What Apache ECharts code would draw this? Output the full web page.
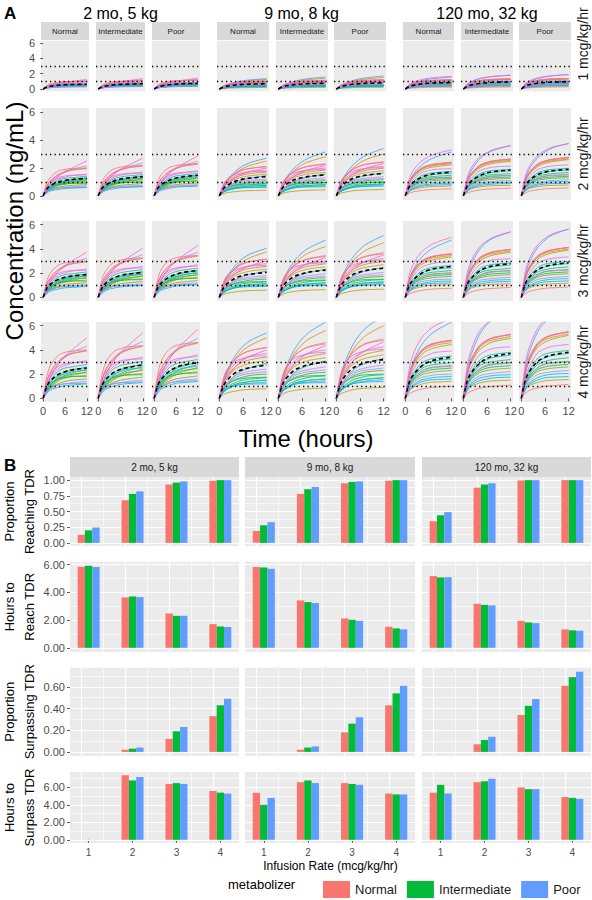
<!DOCTYPE html>
<html><head><meta charset="utf-8">
<script src="https://cdn.jsdelivr.net/npm/echarts@6/dist/echarts.min.js"></script>
<style>html,body{margin:0;padding:0;background:#fff}#c{width:592px;height:900px}</style>
</head><body><div id="c"></div>
<script>
// ---------------- DATA ----------------
const ageGroups = ['2 mo, 5 kg', '9 mo, 8 kg', '120 mo, 32 kg'];
const metabolizers = ['Normal', 'Intermediate', 'Poor'];
const infusionRates = [1, 2, 3, 4];
const rateLabels = ['1 mcg/kg/hr', '2 mcg/kg/hr', '3 mcg/kg/hr', '4 mcg/kg/hr'];
const hours = [0, 1, 2, 4, 6, 8, 12];
const timeTicks = [0, 6, 12];
const concTicks = [0, 2, 4, 6];
const targetRange = [1, 3];          // ng/mL, dotted reference lines
const referenceRate = 4;             // curves below read at 4 mcg/kg/hr (linear kinetics: scale with rate)

// simulated patients, concentration (ng/mL) at `hours`, 4 mcg/kg/hr
const conc2moNormal = [
[0,1.8,2.7,3.5,3.8,3.9,4.0],[0,1.4,2.1,3.0,3.4,3.7,3.9],[0,0.9,1.4,1.9,2.2,2.4,2.5],[0,0.6,0.9,1.4,1.7,1.9,2.2],
[0,0.7,1.0,1.5,1.7,1.8,1.9],[0,0.6,0.9,1.2,1.4,1.5,1.6],[0,0.7,1.2,1.6,1.8,2.0,2.1],[0,0.8,1.2,1.6,1.7,1.8,1.8],
[0,0.6,1.0,1.6,1.9,2.1,2.4],[0,1.0,1.5,2.2,2.5,2.6,2.8],[0,0.7,1.1,1.7,2.1,2.3,2.6],[0,0.4,0.7,0.9,1.05,1.1,1.2],
[0,0.8,1.3,1.8,2.0,2.2,2.3],[0,0.6,0.85,1.1,1.2,1.22,1.25],[0,1.1,1.8,2.8,3.4,3.8,4.3],[0,0.5,0.8,1.1,1.2,1.3,1.4],
[0,1.1,1.7,2.4,2.7,2.9,3.1],[0,1.35,2.0,2.6,2.85,2.95,3.0],[0,1.0,1.75,2.75,3.5,4.0,5.0],[0,1.4,2.2,3.0,3.5,3.7,3.95]];
const conc2moIntermediate = [
[0,1.9,2.9,3.8,4.1,4.25,4.35],[0,1.5,2.3,3.2,3.7,4.0,4.3],[0,0.95,1.5,2.1,2.4,2.6,2.75],[0,0.65,1.0,1.5,1.85,2.05,2.4],
[0,0.75,1.1,1.6,1.85,1.95,2.05],[0,0.65,0.95,1.3,1.5,1.6,1.75],[0,0.75,1.3,1.75,1.95,2.15,2.3],[0,0.85,1.3,1.7,1.85,1.92,1.95],
[0,0.65,1.1,1.75,2.05,2.3,2.6],[0,1.05,1.65,2.4,2.7,2.85,3.05],[0,0.75,1.2,1.85,2.3,2.5,2.85],[0,0.45,0.75,1.0,1.15,1.22,1.3],
[0,0.85,1.4,1.95,2.2,2.4,2.5],[0,0.65,0.9,1.2,1.28,1.32,1.35],[0,1.2,1.95,3.05,3.7,4.1,4.7],[0,0.55,0.85,1.2,1.3,1.4,1.5],
[0,1.2,1.85,2.6,2.95,3.15,3.4],[0,1.45,2.15,2.8,3.1,3.2,3.25],[0,1.05,1.9,3.0,3.8,4.35,5.4],[0,1.5,2.4,3.3,3.8,4.05,4.3]];
const conc2moPoor = [
[0,2.0,3.1,4.0,4.35,4.5,4.6],[0,1.6,2.45,3.4,3.9,4.25,4.55],[0,1.0,1.6,2.2,2.55,2.75,2.9],[0,0.7,1.05,1.6,1.95,2.2,2.55],
[0,0.8,1.15,1.7,1.95,2.05,2.2],[0,0.7,1.0,1.4,1.6,1.7,1.85],[0,0.8,1.35,1.85,2.1,2.3,2.45],[0,0.9,1.4,1.8,1.95,2.05,2.1],
[0,0.7,1.15,1.85,2.2,2.45,2.8],[0,1.1,1.75,2.5,2.85,3.0,3.2],[0,0.8,1.25,1.95,2.45,2.65,3.0],[0,0.45,0.8,1.05,1.25,1.3,1.4],
[0,0.9,1.5,2.05,2.3,2.5,2.65],[0,0.7,0.95,1.25,1.38,1.42,1.45],[0,1.25,2.05,3.2,3.9,4.35,4.95],[0,0.55,0.9,1.25,1.4,1.5,1.6],
[0,1.25,1.95,2.75,3.1,3.3,3.6],[0,1.5,2.25,2.95,3.25,3.35,3.45],[0,1.1,2.0,3.15,4.0,4.6,5.7],[0,1.6,2.5,3.45,4.0,4.3,4.6]];
const conc9moNormal = [
[0,1.5,2.3,3.2,3.7,3.95,4.2],[0,1.1,1.7,2.4,2.7,2.9,3.1],[0,1.25,2.1,3.25,3.95,4.4,5.0],[0,0.3,0.45,0.6,0.7,0.75,0.8],
[0,1.2,1.9,2.6,3.0,3.2,3.4],[0,0.5,0.8,1.15,1.3,1.4,1.5],[0,0.7,1.1,1.55,1.75,1.9,2.0],[0,0.8,1.2,1.5,1.65,1.7,1.75],
[0,0.6,0.95,1.3,1.5,1.6,1.7],[0,0.7,1.2,1.9,2.3,2.55,2.9],[0,0.5,0.8,1.15,1.3,1.4,1.5],[0,0.5,0.75,1.05,1.2,1.25,1.35],
[0,0.55,0.8,1.05,1.15,1.18,1.2],[0,1.35,2.3,3.5,4.3,4.8,5.4],[0,0.75,1.2,1.7,1.95,2.05,2.2],[0,0.85,1.3,1.85,2.1,2.25,2.4],
[0,1.3,2.0,2.85,3.25,3.5,3.7],[0,1.6,2.4,3.05,3.3,3.45,3.5],[0,1.0,1.7,2.6,3.15,3.5,4.0],[0,1.45,2.3,3.2,3.7,3.95,4.2]];
const conc9moIntermediate = [
[0,1.6,2.5,3.5,4.0,4.3,4.6],[0,1.2,1.85,2.6,2.95,3.15,3.35],[0,1.4,2.35,3.65,4.45,4.95,5.6],[0,0.3,0.5,0.65,0.75,0.8,0.85],
[0,1.3,2.05,2.8,3.25,3.45,3.7],[0,0.55,0.85,1.25,1.4,1.5,1.6],[0,0.75,1.2,1.7,1.9,2.05,2.15],[0,0.85,1.3,1.6,1.8,1.85,1.9],
[0,0.65,1.0,1.4,1.6,1.75,1.85],[0,0.8,1.35,2.1,2.5,2.75,3.1],[0,0.55,0.85,1.25,1.4,1.5,1.6],[0,0.55,0.8,1.15,1.3,1.35,1.45],
[0,0.6,0.85,1.15,1.25,1.28,1.3],[0,1.55,2.6,4.0,4.9,5.5,6.3],[0,0.8,1.3,1.85,2.1,2.2,2.35],[0,0.9,1.4,2.0,2.25,2.4,2.6],
[0,1.4,2.2,3.05,3.5,3.75,4.0],[0,1.75,2.6,3.3,3.55,3.7,3.8],[0,1.1,1.85,2.8,3.4,3.8,4.35],[0,1.6,2.5,3.45,4.0,4.25,4.5]];
const conc9moPoor = [
[0,1.7,2.65,3.75,4.3,4.6,4.9],[0,1.25,1.95,2.75,3.15,3.35,3.6],[0,1.5,2.5,3.9,4.75,5.3,6.0],[0,0.35,0.5,0.7,0.8,0.85,0.9],
[0,1.35,2.15,3.0,3.45,3.7,3.95],[0,0.6,0.9,1.3,1.5,1.6,1.7],[0,0.8,1.25,1.8,2.05,2.2,2.3],[0,0.9,1.35,1.7,1.9,1.95,2.0],
[0,0.7,1.05,1.5,1.7,1.85,1.95],[0,0.85,1.45,2.25,2.7,2.95,3.3],[0,0.6,0.9,1.3,1.5,1.6,1.7],[0,0.55,0.85,1.2,1.35,1.45,1.55],
[0,0.6,0.9,1.2,1.3,1.35,1.4],[0,1.65,2.8,4.3,5.3,5.95,6.8],[0,0.85,1.4,1.95,2.25,2.35,2.5],[0,0.95,1.5,2.1,2.4,2.55,2.75],
[0,1.5,2.35,3.25,3.7,4.0,4.25],[0,1.85,2.75,3.5,3.8,3.95,4.05],[0,1.15,1.95,3.0,3.65,4.05,4.65],[0,1.7,2.65,3.7,4.25,4.55,4.8]];
const conc120moNormal = [
[0,0.35,0.55,0.75,0.87,0.93,1.0],[0,1.9,2.9,3.9,4.35,4.55,4.75],[0,1.8,2.75,3.75,4.2,4.4,4.6],[0,0.6,0.9,1.15,1.3,1.35,1.4],
[0,1.7,2.6,3.55,4.0,4.2,4.45],[0,0.9,1.4,1.9,2.1,2.2,2.3],[0,1.0,1.6,2.2,2.5,2.6,2.7],[0,1.0,1.5,2.05,2.3,2.4,2.5],
[0,1.1,1.7,2.4,2.7,2.8,2.95],[0,1.3,2.0,2.85,3.2,3.35,3.5],[0,1.1,1.8,2.6,2.95,3.1,3.25],[0,0.7,1.1,1.5,1.65,1.75,1.8],
[0,0.65,1.0,1.35,1.5,1.55,1.6],[0,1.9,3.0,4.3,5.1,5.6,6.3],[0,0.8,1.25,1.7,1.85,1.95,2.0],[0,1.0,1.6,2.2,2.45,2.55,2.65],
[0,1.5,2.3,3.25,3.6,3.8,3.9],[0,2.4,3.6,4.9,5.6,6.05,6.6],[0,1.75,2.8,3.8,4.3,4.55,4.8],[0,1.85,2.85,3.9,4.4,4.6,4.8]];
const conc120moIntermediate = [
[0,0.4,0.6,0.82,0.95,1.0,1.1],[0,2.1,3.2,4.3,4.8,5.05,5.25],[0,2.0,3.05,4.15,4.65,4.85,5.1],[0,0.65,1.0,1.25,1.4,1.45,1.5],
[0,1.9,2.9,3.95,4.45,4.7,4.95],[0,1.0,1.55,2.1,2.3,2.4,2.5],[0,1.1,1.75,2.4,2.75,2.85,2.95],[0,1.1,1.65,2.25,2.5,2.6,2.7],
[0,1.2,1.85,2.65,2.95,3.05,3.2],[0,1.45,2.2,3.1,3.5,3.65,3.8],[0,1.2,1.95,2.85,3.2,3.4,3.55],[0,0.75,1.2,1.65,1.8,1.9,1.95],
[0,0.7,1.1,1.45,1.6,1.7,1.75],[0,2.3,3.6,5.2,6.1,6.6,7.2],[0,0.85,1.35,1.85,2.0,2.1,2.2],[0,1.1,1.75,2.4,2.65,2.8,2.9],
[0,1.65,2.5,3.55,3.95,4.15,4.25],[0,2.7,4.0,5.5,6.2,6.7,7.2],[0,1.95,3.1,4.2,4.75,5.0,5.3],[0,2.05,3.15,4.3,4.8,5.05,5.25]];
const conc120moPoor = [
[0,0.4,0.65,0.85,1.0,1.05,1.15],[0,2.2,3.35,4.5,5.0,5.25,5.5],[0,2.1,3.2,4.35,4.85,5.05,5.3],[0,0.7,1.05,1.3,1.45,1.5,1.55],
[0,2.0,3.05,4.15,4.65,4.9,5.2],[0,1.05,1.6,2.2,2.4,2.5,2.6],[0,1.15,1.8,2.5,2.85,2.95,3.05],[0,1.15,1.7,2.35,2.6,2.7,2.8],
[0,1.25,1.95,2.75,3.05,3.2,3.35],[0,1.5,2.3,3.25,3.65,3.8,3.95],[0,1.25,2.05,2.95,3.35,3.55,3.7],[0,0.8,1.25,1.7,1.9,2.0,2.05],
[0,0.75,1.15,1.5,1.7,1.75,1.8],[0,2.4,3.8,5.4,6.3,6.9,7.5],[0,0.9,1.4,1.95,2.1,2.2,2.3],[0,1.15,1.8,2.5,2.8,2.9,3.0],
[0,1.7,2.6,3.7,4.1,4.3,4.45],[0,2.8,4.2,5.7,6.5,7.0,7.5],[0,2.05,3.2,4.35,4.95,5.2,5.5],[0,2.1,3.3,4.5,5.0,5.25,5.45]];
// population mean (dashed), 4 mcg/kg/hr: Normal, Intermediate, Poor
const mean2mo = [[0,1.0,1.45,1.95,2.2,2.35,2.5],[0,1.05,1.55,2.1,2.4,2.55,2.75],[0,1.1,1.6,2.2,2.55,2.75,2.95]];
const mean9mo = [[0,1.0,1.5,2.1,2.4,2.55,2.75],[0,1.1,1.65,2.3,2.6,2.8,3.0],[0,1.15,1.75,2.45,2.8,3.0,3.2]];
const mean120mo = [[0,1.3,1.9,2.6,3.0,3.2,3.4],[0,1.45,2.1,2.85,3.3,3.5,3.7],[0,1.5,2.2,3.0,3.4,3.6,3.8]];

// Panel B: rows = Normal, Intermediate, Poor; columns = infusion rate 1..4
const reachProp2mo = [[0.13,0.68,0.93,0.99],[0.20,0.78,0.96,1.00],[0.245,0.82,0.98,1.00]];
const reachProp9mo = [[0.19,0.78,0.95,0.99],[0.28,0.855,0.97,1.00],[0.33,0.89,0.98,1.00]];
const reachProp120mo = [[0.345,0.88,0.995,1.00],[0.44,0.93,1.00,1.00],[0.49,0.95,1.00,1.00]];
const reachHours2mo = [[5.85,3.64,2.48,1.71],[5.92,3.71,2.31,1.54],[5.83,3.66,2.31,1.50]];
const reachHours9mo = [[5.83,3.42,2.12,1.52],[5.80,3.30,2.02,1.40],[5.70,3.23,1.95,1.33]];
const reachHours120mo = [[5.18,3.18,1.95,1.33],[5.08,3.10,1.83,1.26],[5.10,3.06,1.78,1.23]];
const surpassProp2mo = [[0,0.02,0.12,0.33],[0,0.03,0.19,0.43],[0,0.04,0.23,0.49]];
const surpassProp9mo = [[0,0.02,0.18,0.43],[0,0.04,0.26,0.54],[0,0.05,0.32,0.61]];
const surpassProp120mo = [[0,0.07,0.34,0.61],[0,0.11,0.425,0.69],[0,0.14,0.487,0.74]];
const surpassHours2mo = [[null,7.4,6.4,5.6],[null,6.8,6.5,5.4],[null,7.2,6.4,5.3]];
const surpassHours9mo = [[5.4,6.6,6.5,5.3],[4.0,6.8,6.4,5.2],[4.8,6.5,6.3,5.2]];
const surpassHours120mo = [[5.4,6.6,6.0,4.9],[6.3,6.7,5.8,4.8],[5.3,7.0,5.8,4.7]];
const metricTitles = [['Proportion','Reaching TDR'],['Hours to','Reach TDR'],['Proportion','Surpassing TDR'],['Hours to','Surpass TDR']];
const metricTicks = [[0,0.25,0.5,0.75,1],[0,2,4,6],[0,0.2,0.4,0.6],[0,2,4,6]];

// ---------------- STYLE / LAYOUT ----------------
const FONT = '"Liberation Sans", Arial, Helvetica, sans-serif';
const hue20 = ['#F8766D','#EA8331','#D89000','#C09B00','#A3A500','#7CAE00','#39B600','#00BB4E','#00BF7D','#00C1A3',
               '#00BFC4','#00BAE0','#00B0F6','#35A2FF','#9590FF','#C77CFF','#E76BF3','#FA62DB','#FF62BC','#FF6C91'];
const metColors = ['#F8766D','#00BA38','#619CFF'];
const PANEL_BG = '#ebebeb', STRIP_BG = '#d9d9d9';
const colA = [[41,89],[96,145],[152,200],[217,269],[276,328],[334,386],[403,454],[461,513],[519,571]];
const rowA = [[40.7,91.3],[108,200],[221,301],[322,402]];
const colB = [[70,239],[245,415],[422,591]];
const rowB = [[477,546],[561.7,651.9],[667.7,755.9],[772,843]];

const concSets = [[conc2moNormal,conc2moIntermediate,conc2moPoor],[conc9moNormal,conc9moIntermediate,conc9moPoor],[conc120moNormal,conc120moIntermediate,conc120moPoor]];
const meanSets = [mean2mo, mean9mo, mean120mo];
const metricSets = [
  [reachProp2mo, reachProp9mo, reachProp120mo],
  [reachHours2mo, reachHours9mo, reachHours120mo],
  [surpassProp2mo, surpassProp9mo, surpassProp120mo],
  [surpassHours2mo, surpassHours9mo, surpassHours120mo]];

const grid = [], xAxis = [], yAxis = [], series = [], graphic = [];
function txt(text, x, y, size, opts) {
  opts = opts || {};
  graphic.push({type:'text', x:x, y:y, rotation: opts.rot || 0, silent:true, z:10,
    style:{text:text, fill: opts.color || '#1a1a1a', font: (opts.weight||'normal') + ' ' + size + 'px ' + FONT,
      textAlign: opts.align || 'center', textVerticalAlign:'middle', align: opts.align || 'center', verticalAlign:'middle'}});
}
function rect(x, y, w, h, fill) {
  graphic.push({type:'rect', silent:true, z:0, shape:{x:x, y:y, width:w, height:h}, style:{fill:fill}});
}

// ---------------- PANEL A ----------------
const tExp = 0.05 * (hours[hours.length-1] - hours[0]);
const cExp = 0.05 * (concTicks[concTicks.length-1] - concTicks[0]);
infusionRates.forEach((rate, r) => {
  for (let g = 0; g < 3; g++) for (let m = 0; m < 3; m++) {
    const c = g * 3 + m, idx = grid.length;
    const [x0, x1] = colA[c], [y0, y1] = rowA[r];
    grid.push({left:x0, top:y0, width:x1-x0, height:y1-y0, show:true, backgroundColor:PANEL_BG, borderWidth:0, outerBoundsMode:'none'});
    xAxis.push({type:'value', gridIndex:idx, min:hours[0]-tExp, max:hours[hours.length-1]+tExp,
      axisLine:{show:false}, splitLine:{show:false},
      axisTick:{show:r===3, customValues:timeTicks, length:3, lineStyle:{color:'#333333', width:0.8}},
      axisLabel:{show:r===3, customValues:timeTicks, fontSize:11, color:'#4d4d4d', margin:3, fontFamily:FONT}});
    yAxis.push({type:'value', gridIndex:idx, min:concTicks[0]-cExp, max:concTicks[concTicks.length-1]+cExp,
      axisLine:{show:false}, splitLine:{show:false},
      axisTick:{show:c===0, customValues:concTicks, length:3, lineStyle:{color:'#333333', width:0.8}},
      axisLabel:{show:c===0, customValues:concTicks, fontSize:11, color:'#4d4d4d', margin:6, fontFamily:FONT}});
    concSets[g][m].forEach((vals, i) => {
      series.push({type:'line', xAxisIndex:idx, yAxisIndex:idx, silent:true, animation:false, symbol:'none', showSymbol:false,
        smooth:0.35, clip:true, z:2,
        lineStyle:{color:hue20[i], width:0.85, opacity:0.95},
        data: hours.map((h, k) => [h, vals[k] * rate / referenceRate])});
    });
    const mv = meanSets[g][m];
    series.push({type:'line', xAxisIndex:idx, yAxisIndex:idx, silent:true, animation:false, symbol:'none', showSymbol:false,
      smooth:0.35, clip:true, z:4,
      lineStyle:{color:'#000000', width:1.6, type:[4,3]},
      data: hours.map((h, k) => [h, mv[k] * rate / referenceRate]),
      markLine:{silent:true, animation:false, symbol:['none','none'], label:{show:false}, z:5,
        lineStyle:{color:'#000000', width:1.3, type:[1.3,3.2]},
        data: targetRange.map(v => ({yAxis:v}))}});
  }
  const yc = r === 0 ? 44 : (rowA[r][0] + rowA[r][1]) / 2;
  txt(rateLabels[r], 583, yc, 14, {rot: Math.PI/2});
});
// strips & titles A
for (let g = 0; g < 3; g++) {
  for (let m = 0; m < 3; m++) {
    const [x0, x1] = colA[g*3+m];
    rect(x0, 22, x1-x0, 18, STRIP_BG);
    txt(metabolizers[m], (x0+x1)/2, 31, 8);
  }
  txt(ageGroups[g], (colA[g*3][0] + colA[g*3+2][1]) / 2, 13, 16, {color:'#000'});
}
txt('A', 4, 13, 17, {align:'left', weight:'bold', color:'#000'});
txt('Concentration (ng/mL)', 14, 221, 24, {rot: Math.PI/2, color:'#000'});
txt('Time (hours)', 306, 438, 24, {color:'#000'});

// ---------------- PANEL B ----------------
const dodgeWidth = 0.5;
const xLo = infusionRates[0] - dodgeWidth/2, xHi = infusionRates[infusionRates.length-1] + dodgeWidth/2;
const xPad = 0.05 * (xHi - xLo);
const xMajor = infusionRates;
const xMinor = infusionRates.slice(1).map((v, k) => (v + infusionRates[k]) / 2);
const majorStyle = {color:'#ffffff', width:1.2, type:'solid'};
const minorStyle = {color:'#ffffff', width:0.6, type:'solid'};
metricSets.forEach((sets, r) => {
  let dmax = 0;
  sets.forEach(s => s.forEach(a => a.forEach(v => { if (v != null && v > dmax) dmax = v; })));
  const yLo = -0.05 * dmax, yHi = dmax * 1.05;
  const ticks = metricTicks[r];
  const step = ticks[1] - ticks[0];
  const yMinor = ticks.map(v => v + step/2).filter(v => v <= yHi);
  for (let g = 0; g < 3; g++) {
    const idx = grid.length;
    const [x0, x1] = colB[g], [y0, y1] = rowB[r];
    grid.push({left:x0, top:y0, width:x1-x0, height:y1-y0, show:true, backgroundColor:PANEL_BG, borderWidth:0, outerBoundsMode:'none'});
    xAxis.push({type:'value', gridIndex:idx, min:xLo-xPad, max:xHi+xPad, axisLine:{show:false}, splitLine:{show:false},
      axisTick:{show:r===3, customValues:xMajor, length:3, lineStyle:{color:'#333333', width:0.8}},
      axisLabel:{show:r===3, customValues:xMajor, fontSize:10, color:'#4d4d4d', margin:4, fontFamily:FONT}});
    yAxis.push({type:'value', gridIndex:idx, min:yLo, max:yHi, axisLine:{show:false}, splitLine:{show:false},
      axisTick:{show:g===0, customValues:ticks, length:3, lineStyle:{color:'#333333', width:0.8}},
      axisLabel:{show:g===0, customValues:ticks, fontSize:11, color:'#4d4d4d', margin:5, fontFamily:FONT,
        formatter: v => Number(v).toFixed(2)}});
    const gridLines = []
      .concat(yMinor.map(v => ({yAxis:v, lineStyle:minorStyle})))
      .concat(xMinor.map(v => ({xAxis:v, lineStyle:minorStyle})))
      .concat(ticks.map(v => ({yAxis:v, lineStyle:majorStyle})))
      .concat(xMajor.map(v => ({xAxis:v, lineStyle:majorStyle})));
    for (let m = 0; m < 3; m++) {
      const vals = sets[g][m];
      const s = {type:'bar', name:metabolizers[m], xAxisIndex:idx, yAxisIndex:idx, silent:true, animation:false,
        barWidth: (100/6) + '%', barGap:'0%', z:2,
        itemStyle:{color:metColors[m]},
        data: infusionRates.map((x, k) => [x, vals[k]]).filter(p => p[1] != null)};
      if (m === 0) s.markLine = {silent:true, animation:false, symbol:['none','none'], label:{show:false}, z:1,
        lineStyle:{type:'solid', color:'#ffffff'}, emphasis:{disabled:true}, data:gridLines};
      series.push(s);
    }
    if (r === 0) {
      rect(x0, 457, x1-x0, 20, STRIP_BG);
      txt(ageGroups[g], (x0+x1)/2, 467, 10);
    }
  }
  const yc = (rowB[r][0] + rowB[r][1]) / 2;
  txt(metricTitles[r][0], 9.5, yc, 13, {rot: Math.PI/2, color:'#000'});
  txt(metricTitles[r][1], 29.5, yc, 13, {rot: Math.PI/2, color:'#000'});
});
txt('B', 4, 465, 17, {align:'left', weight:'bold', color:'#000'});
txt('Infusion Rate (mcg/kg/hr)', (colB[0][0] + colB[2][1]) / 2, 866, 12, {color:'#000'});
txt('metabolizer', 228, 884.5, 13, {align:'left', color:'#000'});

const chart = echarts.init(document.getElementById('c'), null, {renderer:'svg', width:592, height:900});
chart.setOption({
  animation:false,
  backgroundColor:'#ffffff',
  textStyle:{fontFamily:FONT},
  grid, xAxis, yAxis, series, graphic,
  legend:{data:metabolizers, left:318, top:876, itemWidth:27, itemHeight:17, itemGap:10, icon:'rect',
    selectedMode:false, textStyle:{fontSize:13, color:'#1a1a1a', fontFamily:FONT}}
});
</script></body></html>
